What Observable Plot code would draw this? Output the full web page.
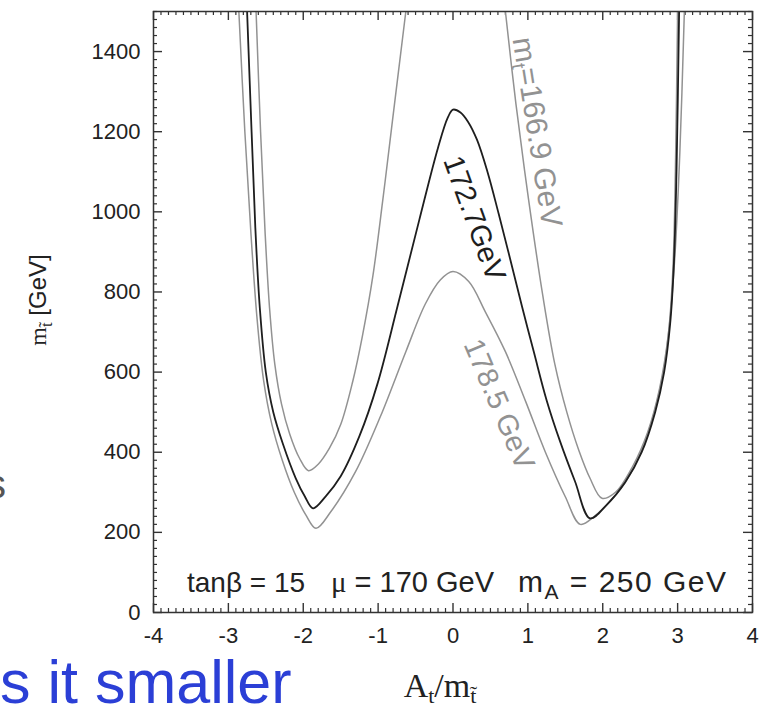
<!DOCTYPE html>
<html><head><meta charset="utf-8">
<script src="https://cdn.jsdelivr.net/npm/d3@7"></script>
<script src="https://cdn.jsdelivr.net/npm/@observablehq/plot@0.6"></script>
<style>
html,body{margin:0;padding:0;background:#fff;overflow:hidden;}
#wrap{position:relative;width:764px;height:708px;overflow:hidden;}
svg{display:block;}
</style></head><body><div id="wrap"></div>
<script>
// ---- data ----
const xTicks = [-4, -3, -2, -1, 0, 1, 2, 3, 4];
const yTicks = [0, 200, 400, 600, 800, 1000, 1200, 1400];
const curveNames = ["=166.9 GeV", "172.7GeV", "178.5 GeV"];

// mt = 166.9 GeV (two pieces, the middle peak leaves the frame)
const x1669a = [-2.63, -2.57, -2.51, -2.45, -2.38, -2.29, -2.18, -2.05, -1.93, -1.80, -1.65, -1.50, -1.34, -1.21, -1.07, -0.94, -0.81, -0.63];
const y1669a = [1500, 1200, 950, 760, 620, 520, 445, 385, 354, 370, 410, 469, 576, 690, 840, 1026, 1225, 1500];
const x1669b = [0.70, 0.84, 1.01, 1.20, 1.36, 1.52, 1.68, 1.83, 1.99, 2.17, 2.40, 2.60, 2.76, 2.88, 2.96, 3.03, 3.09];
const y1669b = [1500, 1270, 1030, 790, 620, 500, 405, 335, 285, 300, 365, 450, 560, 700, 880, 1150, 1500];
// mt = 172.7 GeV
const x1727 = [-2.75, -2.69, -2.64, -2.58, -2.50, -2.40, -2.27, -2.10, -1.98, -1.87, -1.70, -1.50, -1.25, -1.01, -0.74, -0.45, -0.20, -0.07, 0.00,
  0.10, 0.20, 0.32, 0.46, 0.61, 0.76, 0.92, 1.08, 1.25, 1.43, 1.63, 1.83, 2.05, 2.30, 2.52, 2.70, 2.82, 2.90, 2.95, 2.985, 3.02];
const y1727 = [1500, 1200, 960, 760, 600, 500, 420, 335, 290, 260, 290, 340, 440, 570, 765, 980, 1160, 1235, 1255,
  1248, 1225, 1180, 1100, 995, 885, 765, 650, 530, 427, 327, 235, 268, 325, 400, 500, 600, 720, 870, 1100, 1500];
// mt = 178.5 GeV
const x1785 = [-2.86, -2.78, -2.70, -2.62, -2.53, -2.42, -2.28, -2.12, -1.97, -1.83, -1.63, -1.30, -0.97, -0.63, -0.37, -0.17, 0.00,
  0.21, 0.43, 0.70, 0.97, 1.23, 1.50, 1.70, 1.90, 2.10, 2.30, 2.51, 2.69, 2.81, 2.89, 2.94, 2.97, 3.00];
const y1785 = [1500, 1200, 950, 740, 580, 470, 380, 300, 245, 210, 252, 352, 489, 651, 770, 830, 851,
  826, 751, 651, 527, 402, 289, 220, 242, 278, 325, 400, 500, 600, 720, 870, 1100, 1500];

// label anchor points (data units) and angles
const labelX = [1.14, 0.30, 0.63];
const labelY = [1198, 983, 519];
const labelAngle = [81, 70, 67];

// ---- layout / style ----
const W = 764, H = 708;
const mL = 153, mR = 12, mT = 11, mB = 96;
const FW = W - mL - mR, FH = H - mT - mB;
const SANS = "'Liberation Sans', Arial, Helvetica, sans-serif";
const SERIF = "'Liberation Serif', 'Times New Roman', serif";
const GRAY = "#929292", DARK = "#1e1e1e";

const xMinor = d3.range(-40, 41).filter(i => i % 10 !== 0).map(i => i / 10);
const yMinor = d3.range(0, 76).filter(i => i % 10 !== 0).map(i => i * 20);

const pts = (xs, ys) => xs.map((x, i) => ({x, y: ys[i]}));
const lineOpts = (stroke, sw) => ({x: "x", y: "y", stroke, strokeWidth: sw, curve: "catmull-rom", clip: true});

const chart = Plot.plot({
  width: W, height: H,
  marginLeft: mL, marginRight: mR, marginTop: mT, marginBottom: mB,
  x: {domain: [-4, 4], axis: null},
  y: {domain: [0, 1500], axis: null},
  style: {fontFamily: SANS, fontSize: "22px", color: "#222", background: "white"},
  marks: [
    // inward ticks on all four sides
    Plot.tickY(yMinor, {y: d => d, insetRight: FW - 4, stroke: "#333", strokeWidth: 1.2}),
    Plot.tickY(yMinor, {y: d => d, insetLeft: FW - 4, stroke: "#333", strokeWidth: 1.2}),
    Plot.tickY(yTicks, {y: d => d, insetRight: FW - 9, stroke: "#333", strokeWidth: 1.4}),
    Plot.tickY(yTicks, {y: d => d, insetLeft: FW - 9, stroke: "#333", strokeWidth: 1.4}),
    Plot.tickX(xMinor, {x: d => d, insetTop: FH - 4, stroke: "#333", strokeWidth: 1.2}),
    Plot.tickX(xMinor, {x: d => d, insetBottom: FH - 4, stroke: "#333", strokeWidth: 1.2}),
    Plot.tickX(xTicks, {x: d => d, insetTop: FH - 9, stroke: "#333", strokeWidth: 1.4}),
    Plot.tickX(xTicks, {x: d => d, insetBottom: FH - 9, stroke: "#333", strokeWidth: 1.4}),
    Plot.axisY(yTicks, {anchor: "left", tickSize: 0, tickPadding: 13, label: null, tickFormat: d => String(d), fill: "#222", fontSize: 22}),
    Plot.axisX(xTicks, {anchor: "bottom", tickSize: 0, tickPadding: 15, label: null, tickFormat: d => String(d), fill: "#222", fontSize: 22}),
    Plot.line(pts(x1669a, y1669a), lineOpts(GRAY, 1.5)),
    Plot.line(pts(x1669b, y1669b), lineOpts(GRAY, 1.5)),
    Plot.line(pts(x1785, y1785), lineOpts(GRAY, 1.5)),
    Plot.line(pts(x1727, y1727), lineOpts(DARK, 1.8)),
    Plot.frame({stroke: "#333", strokeWidth: 1.5})
  ]
});

document.getElementById("wrap").appendChild(chart);

// ---- annotations (some with sub-scripts) ----
const svg = d3.select(chart);
const sx = chart.scale("x"), sy = chart.scale("y");
function addText(parts, {x, y, anchor = "start", rotate = 0, fill = "#222", size = 27, family = SANS, dy = null, len = null}) {
  const t = svg.append("text")
    .attr("transform", `translate(${x},${y}) rotate(${rotate})`)
    .attr("text-anchor", anchor).attr("fill", fill)
    .attr("font-size", size).attr("font-family", family);
  if (dy) t.attr("dy", dy);
  if (len) t.attr("textLength", len).attr("lengthAdjust", "spacing");
  for (const p of parts) {
    const ts = t.append("tspan").text(p.text);
    if (p.dy) ts.attr("dy", p.dy);
    if (p.size) ts.attr("font-size", p.size);
    if (p.family) ts.attr("font-family", p.family);
  }
  return t;
}

// curve labels
addText([{text: "m"}, {text: "t", size: 20, dy: 5}, {text: curveNames[0], dy: -5}],
  {x: sx.apply(labelX[0]), y: sy.apply(labelY[0]), anchor: "middle", rotate: labelAngle[0], fill: GRAY, size: 30, dy: "0.35em"});
addText([{text: curveNames[1]}],
  {x: sx.apply(labelX[1]), y: sy.apply(labelY[1]), anchor: "middle", rotate: labelAngle[1], fill: DARK, size: 29, dy: "0.35em"});
addText([{text: curveNames[2]}],
  {x: sx.apply(labelX[2]), y: sy.apply(labelY[2]), anchor: "middle", rotate: labelAngle[2], fill: GRAY, size: 29, dy: "0.35em"});

// parameter line inside the frame
const paramY = sy.apply(0) - 20;
addText([{text: "tanβ = 15"}], {x: 187, y: paramY, size: 28});
addText([{text: "μ", family: SERIF}, {text: " = 170 GeV"}], {x: 331, y: paramY, size: 29});
addText([{text: "m"}, {text: "A", size: 21, dy: 7}, {text: " = 250 GeV", dy: -7}], {x: 518, y: paramY, size: 30, len: 208});

// axis titles
addText([{text: "m", family: SERIF}, {text: "t\u0303", family: SERIF, size: 17, dy: 6}, {text: " [GeV]", dy: -6}],
  {x: 46, y: 300, anchor: "middle", rotate: -90, size: 24});
addText([{text: "A"}, {text: "t", size: 22, dy: 6}, {text: "/m", dy: -6}, {text: "t\u0303", size: 22, dy: 6}],
  {x: 440, y: 697, anchor: "middle", size: 34, family: SERIF});

// slide text cut by the screenshot
addText([{text: "s it smaller"}], {x: 0, y: 703, size: 61, fill: "#2b3fd6"});
addText([{text: "s"}], {x: -14, y: 498, size: 40, fill: "#555"});
</script></body></html>
